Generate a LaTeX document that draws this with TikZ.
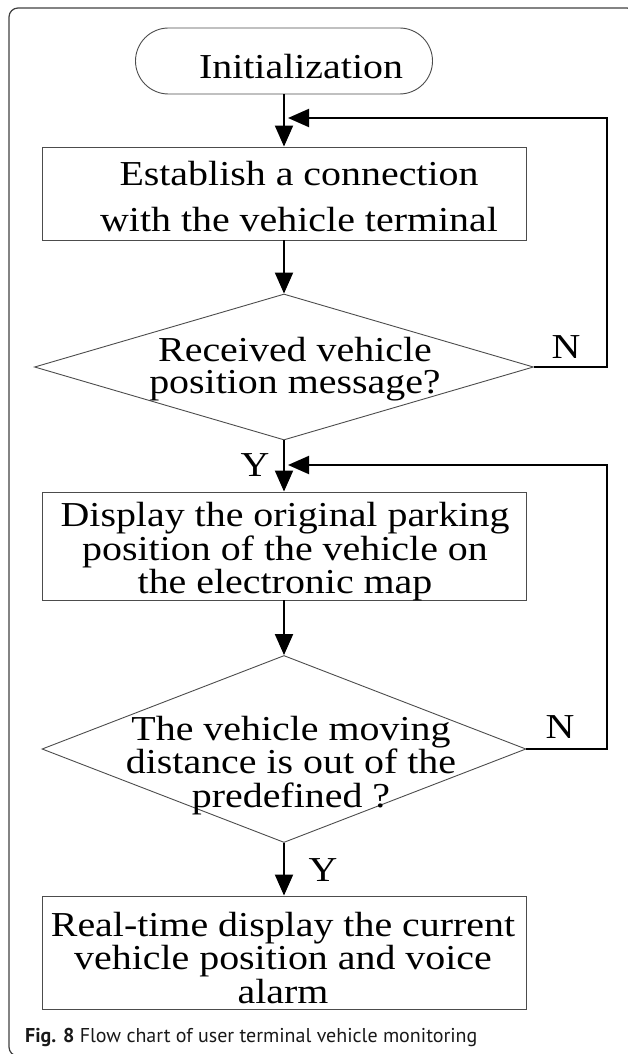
\documentclass[tikz,border=0pt]{standalone}
\usepackage{fontspec}
\setmainfont{Liberation Serif}[FakeStretch=1.14]
\newfontfamily\capfont{PT Sans}
\usetikzlibrary{shapes.geometric,shapes.misc,arrows.meta}

\tikzset{
	chartfont/.style={font=\fontsize{35}{30}\selectfont},
	terminal/.style={draw=black!70, line width=0.9pt, rounded rectangle, minimum width=297pt, minimum height=66pt, inner sep=0pt, chartfont},
	flowbox/.style={draw=black!70, line width=0.9pt, rectangle, minimum width=484pt, inner sep=0pt, chartfont},
	decision/.style={draw=black!70, line width=0.9pt, diamond, inner sep=0pt, chartfont},
	flow/.style={line width=2pt, -{Triangle[length=21pt,width=18pt]}},
	answer/.style={inner sep=0pt, chartfont},
}
% text of a step, kept out of the size of its shape (#1 twice the shift right, #2 the lift)
\newcommand{\flatbox}[3]{\makebox[0pt]{\hspace*{#1}\raisebox{#2}[0pt][0pt]{\begin{tabular}{@{}c@{}}#3\end{tabular}}}}

\begin{document}
\begin{tikzpicture}[x=1pt, y=-1pt]
	\useasboundingbox (0,0) rectangle (627,1054);
	% frame round the figure
		\draw[black!75, line width=1.2pt, rounded corners=9pt] (9,8) rectangle (636,1056);

	% the steps
		\node[terminal] (init) at (284,61) {\flatbox{34pt}{-16.5pt}{Initialization}};
		\node[flowbox, minimum height=93pt, font=\fontsize{35}{46}\selectfont] (est) at (284,193.5) {\flatbox{30pt}{-12pt}{Establish a connection\\with the vehicle terminal}};
		\node[decision, minimum width=499pt, minimum height=146pt, font=\fontsize{35}{32}\selectfont] (recv) at (284,367) {\flatbox{22pt}{-9.4pt}{Received vehicle\\position message?}};
		\node[flowbox, minimum height=108pt] (disp) at (284,546) {\flatbox{2pt}{-12.5pt}{Display the original parking\\position of the vehicle on\\the electronic map}};
		\node[decision, minimum width=484pt, minimum height=187pt] (dist) at (284,749) {\flatbox{14pt}{-23.5pt}{The vehicle moving\\distance is out of the\\predefined ?}};
		\node[flowbox, minimum height=113pt, font=\fontsize{35}{31}\selectfont] (alarm) at (284,952.5) {\flatbox{-2pt}{-16pt}{Real-time display the current\\vehicle position and voice\\alarm}};

	% the arrows
		\coordinate (turn1) at (607,118);
		\coordinate (back1) at (288,118);
		\coordinate (turn2) at (607,465);
		\coordinate (back2) at (288,465);
		\draw[flow] (init) -- (est);
		\draw[flow] (est) -- (recv);
		\draw[flow] (recv) -- (disp);
		\draw[flow] (disp) -- (dist);
		\draw[flow] (dist) -- (alarm);
		\draw[flow] (recv.east) -| (turn1) -- (back1);
		\draw[flow] (dist.east) -| (turn2) -- (back2);

	% Y and N
		\node[answer] (n1) at (566,347) {N};
		\node[answer] (y1) at (255,465) {Y};
		\node[answer] (n2) at (560,727) {N};
		\node[answer] (y2) at (323,870) {Y};

	% caption
		\node[anchor=base west, inner sep=0pt, text=black!90, font=\capfont\fontsize{20}{20}\selectfont] (caption) at (25,1042) {\textbf{Fig. 8} Flow chart of user terminal vehicle monitoring};
\end{tikzpicture}
\end{document}
